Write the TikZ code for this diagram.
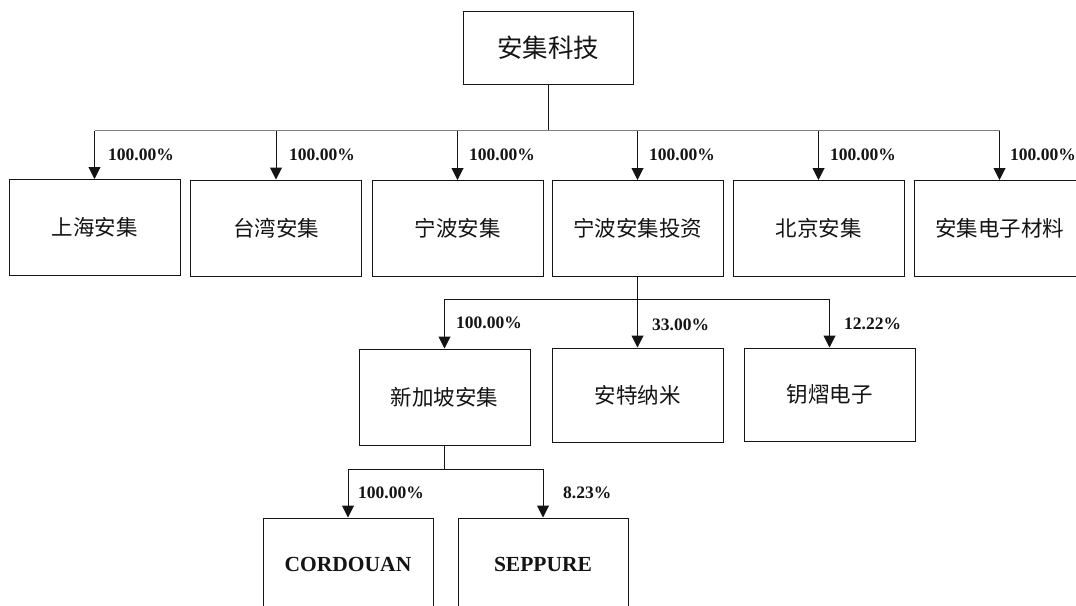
\documentclass[tikz,border=0pt]{standalone}
\usepackage{fontspec}
\setmainfont{Liberation Serif}
\newfontfamily\cjk{Noto Sans CJK SC}
\usetikzlibrary{arrows.meta}
\definecolor{ink}{RGB}{20,20,20}
\definecolor{busgray}{RGB}{128,128,128}
\begin{document}
\begin{tikzpicture}[x=1pt,y=-1pt,
  box/.style={draw=ink,line width=1pt,rectangle,minimum width=171pt,minimum height=96pt,inner sep=0pt,text=ink,font=\cjk\fontsize{21.5}{24}\selectfont},
  topbox/.style={box,minimum width=170pt,minimum height=73pt,font=\cjk\fontsize{25.5}{28}\selectfont},
  enbox/.style={box,minimum width=170pt,minimum height=92pt,font=\bfseries\fontsize{21.5}{24}\selectfont},
  pct/.style={anchor=west,inner sep=0pt,text=ink,font=\bfseries\fontsize{17.5}{19}\selectfont},
  arr/.style={draw=ink,line width=1pt,-{Triangle[width=12pt,length=12pt]}},
  line/.style={draw=ink,line width=1pt},
  bus/.style={draw=busgray,line width=1.6pt}]
\useasboundingbox (0,0) rectangle (1076,605);
\clip (0,0) rectangle (1076,605);
\fill[white] (0,0) rectangle (1076,605);

% top
\node[topbox] (top) at (548,47.5) {安集科技};

% row 1
\node[box] (b1) at (94.5,227.5) {上海安集};
\node[box] (b2) at (276,228) {台湾安集};
\node[box] (b3) at (457.5,228.5) {宁波安集};
\node[box] (b4) at (637.5,228.5) {宁波安集投资};
\node[box] (b5) at (818.5,228.5) {北京安集};
\node[box] (b6) at (999.5,228.5) {安集电子材料};

\coordinate (bus1) at (548,130.5);
\draw[line] (top.south) -- (bus1);
\draw[bus] (b1.north |- bus1) -- (b6.north |- bus1);
\foreach \n in {b1,b2,b3,b4,b5,b6}{
  \draw[arr] (\n.north |- bus1) -- (\n.north);
}
\node[pct] (p1) at (108,155) {100.00\%};
\node[pct] (p2) at (289,155) {100.00\%};
\node[pct] (p3) at (469,155) {100.00\%};
\node[pct] (p4) at (649,155) {100.00\%};
\node[pct] (p5) at (830,155) {100.00\%};
\node[pct] (p6) at (1010,155) {100.00\%};

% row 2
\node[box] (c1) at (444.5,397) {新加坡安集};
\node[box,minimum height=94pt] (c2) at (637.5,395) {安特纳米};
\node[box,minimum height=93pt] (c3) at (829.5,394.5) {钥熠电子};

\coordinate (bus2) at (637.5,299);
\draw[line] (b4.south) -- (bus2);
\draw[line] (c1.north |- bus2) -- (c3.north |- bus2);
\draw[arr] (c1.north |- bus2) -- (c1.north);
\draw[arr] (bus2) -- (c2.north);
\draw[arr] (c3.north |- bus2) -- (c3.north);
\node[pct] (q1) at (456,323) {100.00\%};
\node[pct] (q2) at (652,325) {33.00\%};
\node[pct] (q3) at (844,324) {12.22\%};

% row 3
\node[enbox] (d1) at (348,564) {CORDOUAN};
\node[enbox] (d2) at (543,564) {SEPPURE};

\coordinate (bus3) at (444.5,469);
\draw[line] (c1.south) -- (bus3);
\draw[line] (d1.north |- bus3) -- (d2.north |- bus3);
\draw[arr] (d1.north |- bus3) -- (d1.north);
\draw[arr] (d2.north |- bus3) -- (d2.north);
\node[pct] (r1) at (358,493) {100.00\%};
\node[pct] (r2) at (563,493) {8.23\%};
\end{tikzpicture}
\end{document}
